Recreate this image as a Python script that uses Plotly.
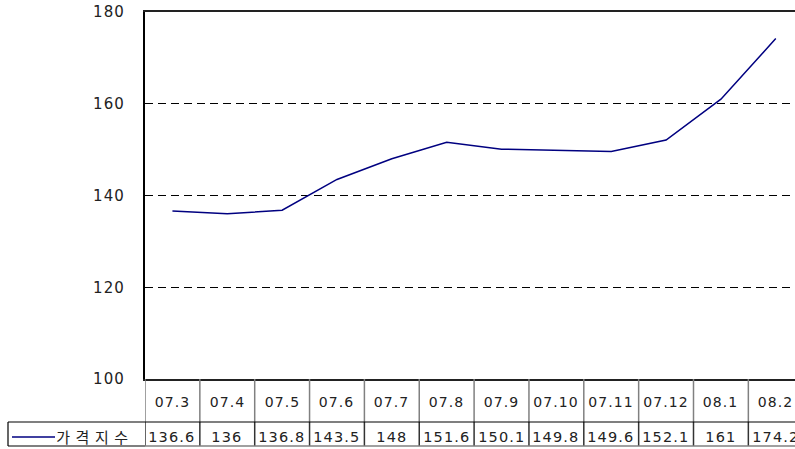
import plotly.graph_objects as go

categories = ["07.3", "07.4", "07.5", "07.6", "07.7", "07.8", "07.9", "07.10", "07.11", "07.12", "08.1", "08.2"]
values = [136.6, 136, 136.8, 143.5, 148, 151.6, 150.1, 149.8, 149.6, 152.1, 161, 174.2]
value_labels = ["136.6", "136", "136.8", "143.5", "148", "151.6", "150.1", "149.8", "149.6", "152.1", "161", "174.2"]
series_name = "가격지수"
y_ticks = [100, 120, 140, 160, 180]

W, H = 795, 449
ML, MT = 145, 12
MB = H - 379
MR = 0
PH = H - MT - MB
PW = W - ML - MR

def py(px_below):
    """paper y for a pixel offset below the plot bottom"""
    return -px_below / PH

def px_x(page_px):
    return (page_px - ML) / PW

FONT = "DejaVu Sans, Noto Sans CJK KR, sans-serif"
KFONT = "Noto Sans CJK KR, sans-serif"
LINE = "#000080"
TXT = "#222222"
n = len(categories)
xs = list(range(n))

fig = go.Figure()
fig.add_trace(go.Scatter(x=xs, y=values, mode="lines", name=series_name,
                         line=dict(color=LINE, width=1.5), hoverinfo="skip",
                         showlegend=False))

row1 = 43   # bottom of category row (px below axis)
row2 = 67   # bottom of data row

shapes = []
for i in range(n + 1):
    xb = i - 0.5
    shapes.append(dict(type="line", xref="x", yref="paper", x0=xb, x1=xb,
                       y0=0, y1=py(row1), line=dict(color="#808080", width=1.5)))
    shapes.append(dict(type="line", xref="x", yref="paper", x0=xb, x1=xb,
                       y0=py(row1), y1=py(row2), line=dict(color="#333333", width=1.5)))
shapes.append(dict(type="line", xref="paper", yref="paper", x0=px_x(8), x1=1,
                   y0=py(row1), y1=py(row1), line=dict(color="#000000", width=1.2)))
shapes.append(dict(type="line", xref="paper", yref="paper", x0=0, x1=1,
                   y0=py(row2), y1=py(row2), line=dict(color="#808080", width=1.5)))
shapes.append(dict(type="line", xref="paper", yref="paper", x0=px_x(8), x1=0,
                   y0=py(row2), y1=py(row2), line=dict(color="#000000", width=1.2)))
shapes.append(dict(type="line", xref="paper", yref="paper", x0=px_x(8), x1=px_x(8),
                   y0=py(row1), y1=py(row2), line=dict(color="#000000", width=1.2)))
shapes.append(dict(type="line", xref="paper", yref="paper", x0=px_x(12), x1=px_x(55),
                   y0=py(58), y1=py(58), line=dict(color=LINE, width=1.5)))

annotations = []
for i, c in enumerate(categories):
    annotations.append(dict(x=i, y=py(23), xref="x", yref="paper", text=c,
                            showarrow=False, xanchor="center", yanchor="middle",
                            font=dict(family=FONT, size=14, color=TXT)))
for i, v in enumerate(value_labels):
    annotations.append(dict(x=i, y=py(58), xref="x", yref="paper", text=v,
                            showarrow=False, xanchor="center", yanchor="middle",
                            font=dict(family=FONT, size=14.5, color=TXT)))
annotations.append(dict(x=px_x(58), y=py(58), xref="paper", yref="paper",
                        text="가 격 지 수", showarrow=False, xanchor="left",
                        yanchor="middle", font=dict(family=KFONT, size=15, color=TXT)))

cell = 54.85
fig.update_layout(
    width=W, height=H,
    margin=dict(l=ML, r=MR, t=MT, b=MB, pad=0),
    paper_bgcolor="white", plot_bgcolor="white",
    font=dict(family=FONT, size=15, color=TXT),
    xaxis=dict(range=[-0.5, -0.5 + PW / cell], showticklabels=False, showgrid=False,
               zeroline=False, showline=True, mirror=True, linecolor="#222222",
               linewidth=2, ticks=""),
    yaxis=dict(range=[100, 180], tickvals=y_ticks, ticktext=[str(t) for t in y_ticks],
               showgrid=True, gridcolor="#000000", gridwidth=1, griddash="8px,5px",
               zeroline=False, showline=True, linecolor="#000000", linewidth=2,
               ticks="", ticklabelstandoff=15,
               tickfont=dict(family=FONT, size=15, color=TXT)),
    shapes=shapes,
    annotations=annotations,
    showlegend=False,
    hovermode=False,
)

post = """
document.body.style.margin = '0';
document.body.style.overflow = 'hidden';
document.querySelectorAll('.main-svg text').forEach(function(t){
  t.style.letterSpacing = '1.1px';
});
"""
fig.write_html("out.html", post_script=post, config={"displayModeBar": False, "staticPlot": True})
